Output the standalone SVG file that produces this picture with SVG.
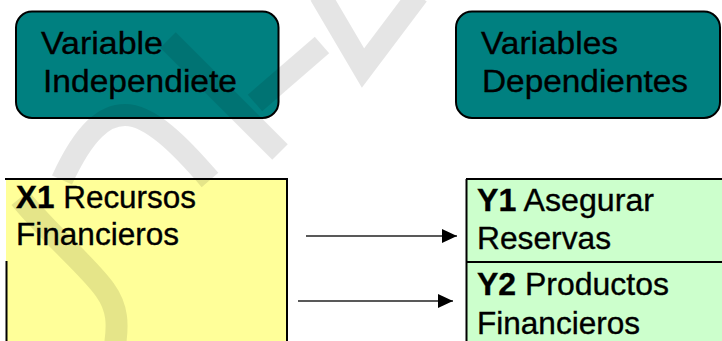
<svg xmlns="http://www.w3.org/2000/svg" width="722" height="341" viewBox="0 0 722 341">
<style>
.hdr{fill:#008080;stroke:#000;stroke-width:2}
.t{font-family:"Liberation Sans",Arial,sans-serif;font-size:31px;fill:#000;stroke:#000;stroke-width:0.35}
.b{font-weight:bold}
.bd{stroke:#000;stroke-width:2;fill:none}
.conn{stroke:#222;stroke-width:1.6;fill:none}
.wm{stroke:#000;stroke-opacity:0.1;stroke-width:22;fill:none}
</style>
<defs>
<marker id="ah" markerWidth="15" markerHeight="14" refX="15" refY="7" orient="auto" markerUnits="userSpaceOnUse">
<path d="M0,0 L15,7 L0,14 Z" fill="#000"/>
</marker>
</defs>
<rect width="722" height="341" fill="#fff"/>
<g id="node-indep">
<rect class="hdr" x="16" y="11.5" width="262.5" height="106.5" rx="16"/>
<text class="t" x="41" y="54" textLength="122" lengthAdjust="spacingAndGlyphs">Variable</text>
<text class="t" x="43" y="91.5" textLength="194" lengthAdjust="spacingAndGlyphs">Independiete</text>
</g>
<g id="node-dep">
<rect class="hdr" x="456" y="11.5" width="264" height="106.5" rx="16"/>
<text class="t" x="481" y="54" textLength="137" lengthAdjust="spacingAndGlyphs">Variables</text>
<text class="t" x="482" y="91.5" textLength="206" lengthAdjust="spacingAndGlyphs">Dependientes</text>
</g>
<g id="node-x1">
<rect x="6" y="179" width="281" height="170" fill="#FFFF99"/>
<path class="bd" d="M5,179 H288 M287,179 V341 M6.5,261 V341"/>
<text class="t" x="16" y="208" textLength="180" lengthAdjust="spacingAndGlyphs"><tspan class="b">X1</tspan> Recursos</text>
<text class="t" x="16" y="245" textLength="163" lengthAdjust="spacingAndGlyphs">Financieros</text>
</g>
<g id="node-y1">
<rect x="466" y="179" width="260" height="83" fill="#CCFFCC"/>
<path class="bd" d="M466,179 H722 M466.5,179 V262"/>
<text class="t" x="477" y="211" textLength="177" lengthAdjust="spacingAndGlyphs"><tspan class="b">Y1</tspan> Asegurar</text>
<text class="t" x="477" y="249" textLength="134" lengthAdjust="spacingAndGlyphs">Reservas</text>
</g>
<g id="node-y2">
<rect x="466" y="262" width="260" height="85" fill="#CCFFCC"/>
<path class="bd" d="M466,262 H722 M466.5,262 V341"/>
<text class="t" x="477" y="295" textLength="192" lengthAdjust="spacingAndGlyphs"><tspan class="b">Y2</tspan> Productos</text>
<text class="t" x="477" y="334" textLength="163" lengthAdjust="spacingAndGlyphs">Financieros</text>
</g>
<g id="connectors">
<line class="conn" x1="306" y1="236" x2="457" y2="236" marker-end="url(#ah)"/>
<line class="conn" x1="298" y1="301" x2="453" y2="301" marker-end="url(#ah)"/>
</g>
<g id="watermark">
<path class="wm" d="M62,180 C85,130 105,115 125,115 C150,115 180,145 210,180"/>
<path class="wm" d="M168,40 L280,152"/>
<path class="wm" d="M322,45 L255,103"/>
<path class="wm" d="M320,-5 L363,68 L418,-5"/>
<path class="wm" d="M20,198 C50,235 90,268 105,290 C118,308 118,325 115,345"/>
</g>
</svg>
